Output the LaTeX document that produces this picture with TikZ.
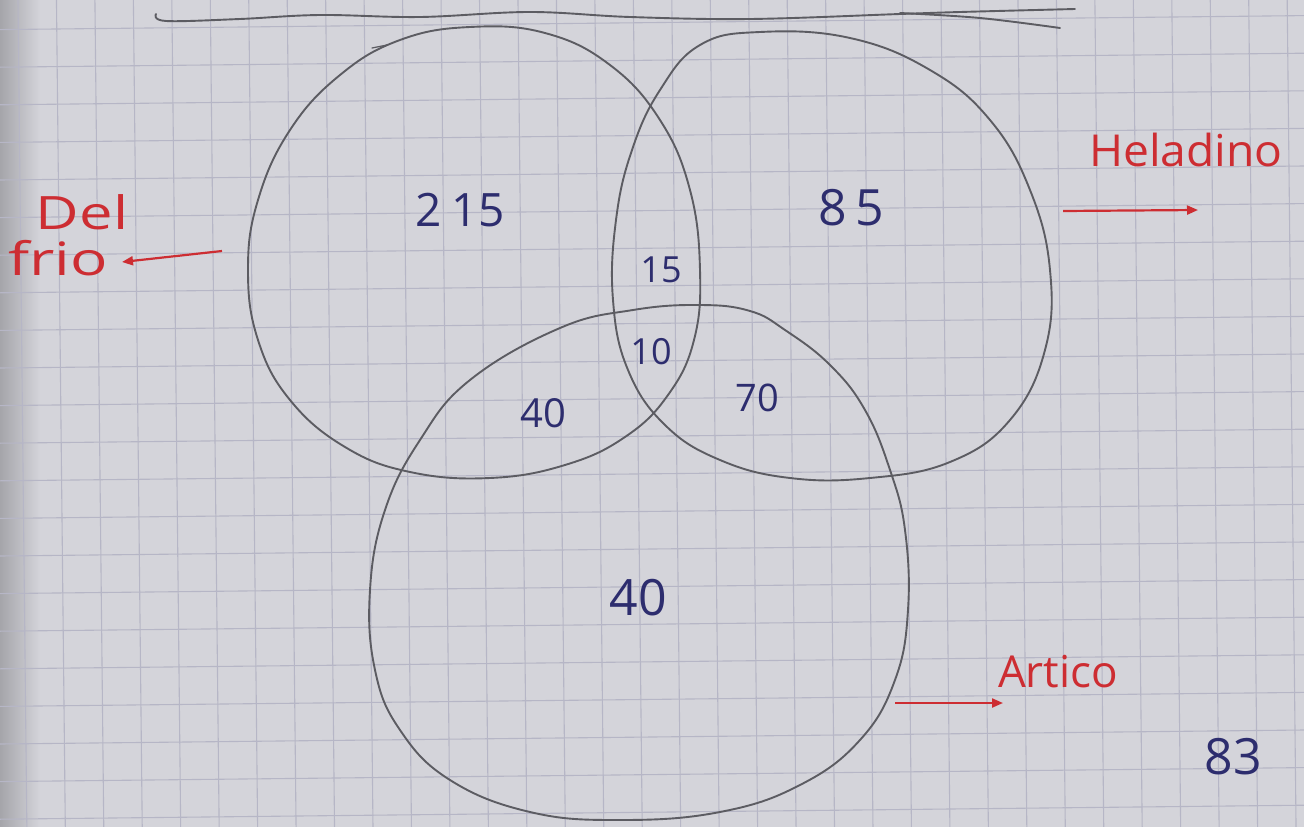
\documentclass[tikz,border=0pt]{standalone}
\usepackage{fontspec}
\setmainfont{Open Sans}
\usetikzlibrary{arrows.meta}
\definecolor{paper}{RGB}{212,212,218}
\definecolor{shadowc}{RGB}{165,165,170}
\definecolor{gridc}{RGB}{182,182,198}
\definecolor{pencil}{RGB}{92,92,98}
\definecolor{ink}{RGB}{45,45,110}
\definecolor{redink}{RGB}{205,45,50}
\begin{document}
\begin{tikzpicture}[x=1pt,y=-1pt,
  pencilline/.style={draw=pencil,line width=1.9pt,line join=round,line cap=round},
  gridline/.style={draw=gridc,line width=1.1pt},
  num/.style={text=ink,inner sep=0pt},
  lab/.style={text=redink,inner sep=0pt},
  redarrow/.style={draw=redink,line width=2.2pt,-{Triangle[length=11pt,width=9pt]}}]
\fill[paper] (0,0) rectangle (1304,827);
\useasboundingbox (0,0) rectangle (1304,827);
\shade[left color=shadowc,right color=paper] (0,0) rectangle (40,827);
% grid paper
\foreach \i in {0,...,34} {
  \draw[gridline] ({18+38.46*\i},0) -- ({26.85+38.46*\i},827);
}
\foreach \j in {0,...,22} {
  \draw[gridline] (0,{29.6+37.6*\j-37.6}) -- (1304,{15.6+37.6*\j-37.6});
}
% top line
\draw[pencilline] plot[smooth,tension=0.6] coordinates {(156,14) (166,21) (240,19) (320,15) (420,17) (530,12) (630,17) (750,19) (900,14) (960,12) (1075,9)};
\draw[pencilline] plot[smooth,tension=0.6] coordinates {(900,13) (980,18) (1060,28)};
% Del frio circle
\draw[pencilline] plot[smooth cycle,tension=0.7] coordinates {(470,27) (400,40) (340,75) (290,130) (258,200) (248,270) (258,340) (290,400) (345,447) (410,472) (490,478) (565,465) (625,437) (668,395) (694,340) (700,270) (690,190) (660,120) (610,65) (545,33)};
\draw[pencilline,line width=1.2pt] (372,48) -- (387,45);
% Heladino circle
\draw[pencilline] plot[smooth cycle,tension=0.7] coordinates {(760,32) (850,38) (930,70) (990,120) (1030,190) (1050,270) (1045,350) (1010,420) (950,462) (870,478) (790,478) (720,460) (665,425) (628,370) (613,300) (616,220) (632,150) (660,90) (700,45)};
% Artico circle
\draw[pencilline] plot[smooth cycle,tension=0.7] coordinates {(700,305) (633,310) (560,328) (470,380) (420,440) (385,510) (370,590) (375,670) (400,730) (450,780) (530,812) (620,820) (720,812) (800,785) (860,740) (895,680) (908,610) (905,530) (890,470) (865,410) (830,365) (785,330) (750,311)};
% numbers
\node[num,font=\fontsize{46}{46}\selectfont] (n215) at (460,210) {2\hspace{10pt}15};
\node[num,font=\fontsize{50}{50}\selectfont] (n85) at (851,208) {8\hspace{8pt}5};
\node[num,font=\fontsize{36}{36}\selectfont] (n15) at (661,270) {15};
\node[num,font=\fontsize{36}{36}\selectfont] (n10) at (651,352) {10};
\node[num,font=\fontsize{40}{40}\selectfont] (n40a) at (543,413) {40};
\node[num,font=\fontsize{38}{38}\selectfont] (n70) at (757,398) {70};
\node[num,font=\fontsize{50}{50}\selectfont] (n40b) at (638,598) {40};
\node[num,font=\fontsize{50}{50}\selectfont] (n83) at (1233,757) {83};
% red labels
\node[lab,font=\fontsize{46}{46}\selectfont,xscale=1.3] (del) at (82,212) {Del};
\node[lab,font=\fontsize{46}{46}\selectfont,xscale=1.35] (frio) at (58,258) {frio};
\node[lab,font=\fontsize{44}{44}\selectfont,xscale=1.05] (heladino) at (1186,150) {Heladino};
\node[lab,font=\fontsize{44}{44}\selectfont] (artico) at (1058,672) {Artico};
% arrows
\coordinate (dfs) at (222,251);
\coordinate (dfe) at (122,262);
\coordinate (hes) at (1063,211);
\coordinate (hee) at (1198,210);
\coordinate (ars) at (895,703);
\coordinate (are) at (1003,703);
\draw[redarrow] (dfs) -- (dfe);
\draw[redarrow] (hes) -- (hee);
\draw[redarrow] (ars) -- (are);
\end{tikzpicture}
\end{document}
